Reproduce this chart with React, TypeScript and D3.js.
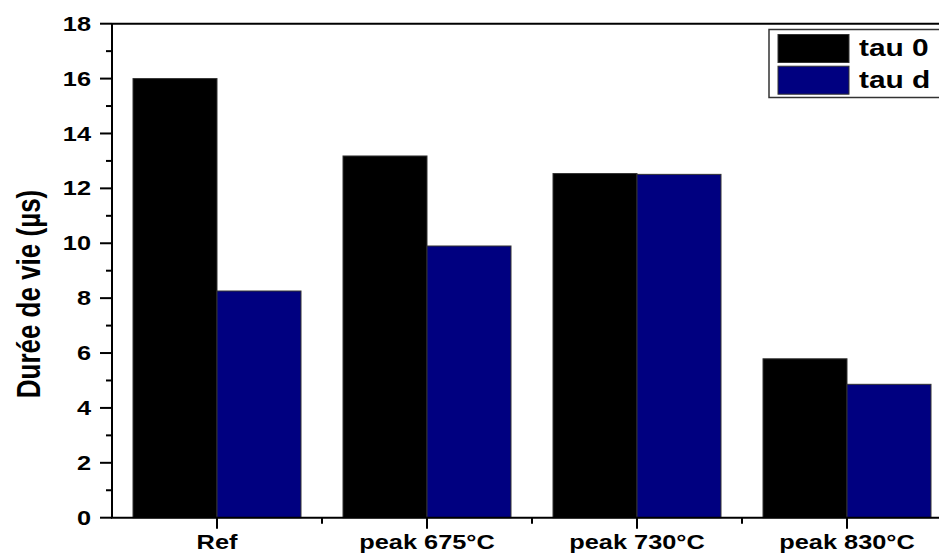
import React from "react";
import * as d3 from "d3";

const categories = ["Ref", "peak 675°C", "peak 730°C", "peak 830°C"];
const seriesNames = ["tau 0", "tau d"];
const tau0 = [16.0, 13.18, 12.54, 5.79];
const taud = [8.26, 9.9, 12.51, 4.86];
const yTicks = [0, 2, 4, 6, 8, 10, 12, 14, 16, 18];
const yMinorTicks = [1, 3, 5, 7, 9, 11, 13, 15, 17];
const colors = ["#000000", "#000080"];

const W = 939;
const H = 554;
const FONT = "'Liberation Sans', Arial, sans-serif";
const SX = 1.3;

export default function App() {
  const left = 112;
  const top = 23.7;
  const bottom = 517.7;
  const y = d3.scaleLinear().domain([0, 18]).range([bottom, top]);
  const x = d3.scaleBand().domain(categories).range([left, left + 840]).paddingInner(0).paddingOuter(0);
  const xs = d3.scaleBand().domain(seriesNames).range([0, x.bandwidth()]).paddingInner(0).paddingOuter(0.25);
  const values = [tau0, taud];
  const boundaries = categories.slice(1).map((c) => x(c) as number);

  return (
    <svg width={W} height={H} style={{ position: "absolute", left: 0, top: 0, background: "#fff" }}>
      <rect x={0} y={0} width={W} height={H} fill="#fff" />
      {/* bars */}
      {categories.map((c, i) =>
        seriesNames.map((s, j) => (
          <rect
            key={c + s}
            x={(x(c) as number) + (xs(s) as number)}
            y={y(values[j][i])}
            width={xs.bandwidth()}
            height={y(0) - y(values[j][i])}
            fill={colors[j]}
            stroke="#333"
            strokeWidth={1}
          />
        ))
      )}
      {/* frame top */}
      <line x1={left} x2={W} y1={top} y2={top} stroke="#000" strokeWidth={2} />
      {/* y axis */}
      <line x1={left} x2={left} y1={top} y2={bottom} stroke="#000" strokeWidth={2} />
      {yTicks.map((t) => (
        <g key={"yt" + t}>
          <line x1={left - 12} x2={left} y1={y(t)} y2={y(t)} stroke="#000" strokeWidth={2} />
          <text
            transform={`translate(${left - 21},${y(t)}) scale(${SX},1)`}
            textAnchor="end"
            dy="0.36em"
            fontFamily={FONT}
            fontWeight="bold"
            fontSize={19.5}
            fill="#000"
          >
            {t}
          </text>
        </g>
      ))}
      {yMinorTicks.map((t) => (
        <line key={"ym" + t} x1={left - 6} x2={left} y1={y(t)} y2={y(t)} stroke="#000" strokeWidth={2} />
      ))}
      {/* x axis */}
      <line x1={left - 1} x2={W} y1={bottom} y2={bottom} stroke="#000" strokeWidth={2} />
      {categories.map((c) => {
        const cx = (x(c) as number) + x.bandwidth() / 2;
        return (
          <g key={"xt" + c}>
            <line x1={cx} x2={cx} y1={bottom} y2={bottom + 11} stroke="#000" strokeWidth={2} />
            <text
              transform={`translate(${cx},${bottom + 31}) scale(${SX},1)`}
              textAnchor="middle"
              fontFamily={FONT}
              fontWeight="bold"
              fontSize={19.5}
              fill="#000"
            >
              {c}
            </text>
          </g>
        );
      })}
      {boundaries.map((b, i) => (
        <line key={"xm" + i} x1={b} x2={b} y1={bottom} y2={bottom + 6} stroke="#000" strokeWidth={2} />
      ))}
      {/* y label */}
      <text
        transform={`translate(40,294) scale(${SX},1) rotate(-90)`}
        textAnchor="middle"
        fontFamily={FONT}
        fontWeight="bold"
        fontSize={26}
        fill="#000"
      >
        Durée de vie (µs)
      </text>
      {/* legend */}
      <rect x={769} y={29.5} width={200} height={68} fill="#fff" stroke="#333" strokeWidth={1.5} />
      {seriesNames.map((s, j) => (
        <g key={"lg" + s}>
          <rect x={778} y={34.5 + j * 31.7} width={71} height={28} fill={colors[j]} stroke="#333" strokeWidth={1} />
          <text
            transform={`translate(859,${56 + j * 31.7}) scale(${SX},1)`}
            fontFamily={FONT}
            fontWeight="bold"
            fontSize={23}
            fill="#000"
          >
            {s}
          </text>
        </g>
      ))}
    </svg>
  );
}
